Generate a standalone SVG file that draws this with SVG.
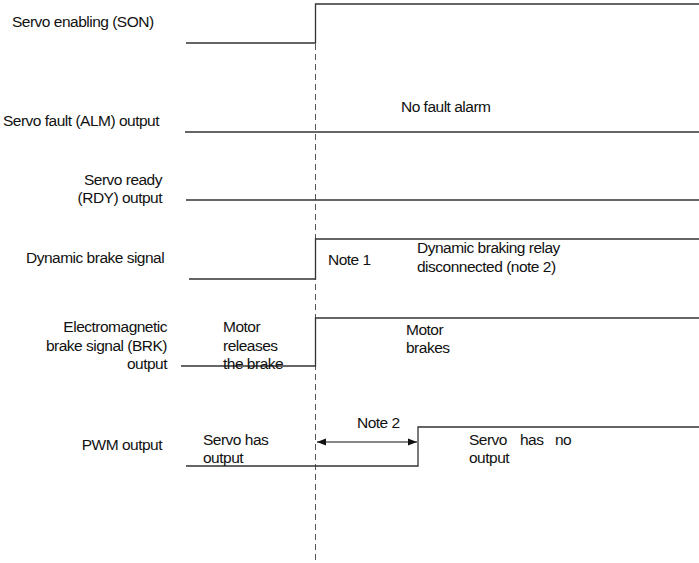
<svg xmlns="http://www.w3.org/2000/svg" width="699" height="563" viewBox="0 0 699 563">
<defs>
<style>
text{font-family:"Liberation Sans",Arial,sans-serif;font-size:15.5px;letter-spacing:-0.5px;fill:#111}
.r{text-anchor:end}
.sig{fill:none;stroke:#333;stroke-width:1.3}
.dash{fill:none;stroke:#555;stroke-width:1;stroke-dasharray:6,4}
</style>
<marker id="ah" viewBox="0 0 10 10" refX="10" refY="5" markerWidth="9" markerHeight="9" orient="auto-start-reverse" markerUnits="userSpaceOnUse">
<path d="M0,1 L10,5 L0,9 z" fill="#111"/>
</marker>
</defs>
<rect width="699" height="563" fill="#fff"/>
<g id="connectors">
<line class="dash" x1="315.5" y1="4" x2="315.5" y2="563"/>
<path class="sig" d="M186,43 H315.5 V4 H699"/>
<path class="sig" d="M185,132 H699"/>
<path class="sig" d="M186,200 H699"/>
<path class="sig" d="M189,279 H315.5 V239 H699"/>
<path class="sig" d="M181,366 H315.5 V318 H699"/>
<path class="sig" d="M186,466 H418 V427 H699"/>
<line x1="317" y1="442" x2="417" y2="442" stroke="#111" stroke-width="1.2" marker-start="url(#ah)" marker-end="url(#ah)"/>
</g>
<g id="son"><text x="12" y="27">Servo enabling (SON)</text></g>
<g id="alm"><text x="3" y="126">Servo fault (ALM) output</text><text x="401" y="112">No fault alarm</text></g>
<g id="rdy"><text class="r" x="162" y="185">Servo ready</text><text class="r" x="162" y="203">(RDY) output</text></g>
<g id="db"><text x="26" y="263">Dynamic brake signal</text><text x="328" y="265">Note 1</text><text x="417" y="253">Dynamic braking relay</text><text x="417" y="272">disconnected (note 2)</text></g>
<g id="brk"><text class="r" x="167" y="332">Electromagnetic</text><text class="r" x="167" y="351">brake signal (BRK)</text><text class="r" x="167" y="369">output</text><text x="223" y="332">Motor</text><text x="223" y="351">releases</text><text x="223" y="369">the brake</text><text x="406" y="335">Motor</text><text x="406" y="353">brakes</text></g>
<g id="pwm"><text class="r" x="162" y="450">PWM output</text><text x="203" y="445">Servo has</text><text x="203" y="463">output</text><text x="357" y="428">Note 2</text><text x="469" y="445">Servo</text><text x="520" y="445">has</text><text x="555" y="445">no</text><text x="469" y="463">output</text></g>
</svg>
